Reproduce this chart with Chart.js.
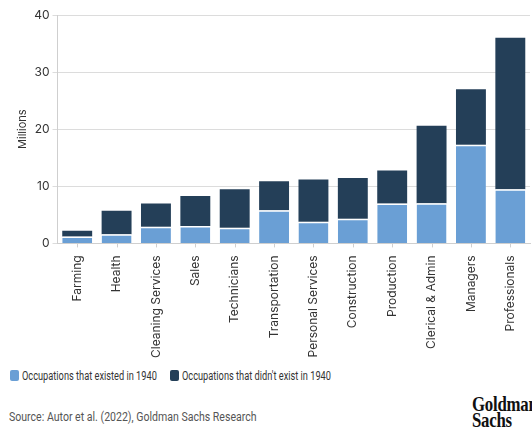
<!DOCTYPE html>
<html>
<head>
<meta charset="utf-8">
<script src="https://cdn.jsdelivr.net/npm/chart.js@4"></script>
<style>
  html, body { margin: 0; padding: 0; background: #fff; }
  #wrap { position: relative; width: 532px; height: 435px; overflow: hidden; }
  #chartBox { position: absolute; left: 0; top: 0; width: 532px; height: 362px; }
  #legend { position: absolute; left: 10px; top: 369px; white-space: nowrap; font: 12px "Roboto", "Liberation Sans", sans-serif; color: #333; }
  #legend .item { display: inline-block; }
  #legend .box { display: inline-block; width: 9px; height: 11px; border-radius: 2px; vertical-align: -1px; margin-right: 3px; }
  #legend .txt { display: inline-block; transform: scaleX(0.77); transform-origin: left center; }
  #legend .item:first-child { margin-right: -27px; }
  #source { position: absolute; left: 9px; top: 410px; white-space: nowrap; font: 12px "Roboto", "Liberation Sans", sans-serif; color: #555; transform: scaleX(0.88); transform-origin: left top; }
  #logo { position: absolute; left: 472px; top: 396px; font: bold 21px/16px "Liberation Serif", "DejaVu Serif", serif; color: #111; transform: scaleX(0.8); transform-origin: left top; letter-spacing: -0.3px; }
</style>
</head>
<body>
<div id="wrap">
  <div id="chartBox"><canvas id="jobsChart"></canvas></div>
  <div id="legend"></div>
  <div id="source">Source: Autor et al. (2022), Goldman Sachs Research</div>
  <div id="logo">Goldman<br>Sachs</div>
</div>
<script>
// Employment by occupation group, millions
const categories = ['Farming', 'Health', 'Cleaning Services', 'Sales', 'Technicians', 'Transportation',
  'Personal Services', 'Construction', 'Production', 'Clerical & Admin', 'Managers', 'Professionals'];
const existed1940 = [1.2, 1.6, 2.9, 3.05, 2.75, 5.8, 3.8, 4.3, 7.0, 7.05, 17.3, 9.5];
const newSince1940 = [1.0, 4.1, 4.1, 5.25, 6.75, 5.1, 7.4, 7.15, 5.75, 13.55, 9.7, 26.5];
const yTicks = [0, 10, 20, 30, 40];

const fontFamily = '"Inter", "Liberation Sans", sans-serif';

// short tick marks under each category, drawn on the x axis
const categoryTicks = {
    id: 'categoryTicks',
    afterDraw(c) {
        const x = c.scales.x;
        const g = c.ctx;
        g.save();
        g.strokeStyle = '#cfcfcf';
        g.lineWidth = 1;
        x.ticks.forEach((t, i) => {
            const px = Math.round(x.getPixelForTick(i)) + 0.5;
            g.beginPath();
            g.moveTo(px, x.top);
            g.lineTo(px, x.top + 4);
            g.stroke();
        });
        g.restore();
    }
};

const ctx = document.getElementById('jobsChart').getContext('2d');
const chart = new Chart(ctx, {
    type: 'bar',
    data: {
        labels: categories,
        datasets: [{
            label: 'Occupations that existed in 1940',
            data: existed1940,
            backgroundColor: '#6a9fd5',
            borderColor: '#ffffff',
            borderWidth: { top: 1.5 },
            borderSkipped: false,
            categoryPercentage: 1,
            barPercentage: 0.76
        }, {
            label: "Occupations that didn't exist in 1940",
            data: newSince1940,
            backgroundColor: '#243f58',
            borderWidth: 0,
            categoryPercentage: 1,
            barPercentage: 0.76
        }]
    },
    options: {
        responsive: true,
        maintainAspectRatio: false,
        animation: false,
        layout: { padding: { left: 12, right: 2, top: 15, bottom: 0 } },
        scales: {
            x: {
                stacked: true,
                grid: { display: false },
                border: { color: '#cfcfcf' },
                ticks: {
                    color: '#333',
                    font: { family: fontFamily, size: 12 },
                    maxRotation: 90,
                    minRotation: 90,
                    padding: 4
                }
            },
            y: {
                stacked: true,
                min: 0,
                max: 40,
                afterBuildTicks: (axis) => { axis.ticks = yTicks.map(v => ({ value: v })); },
                grid: { color: '#dcdcdc', tickLength: 5 },
                border: { color: '#cfcfcf' },
                ticks: {
                    color: '#333',
                    font: { family: fontFamily, size: 12 },
                    padding: 3
                },
                title: {
                    display: true,
                    text: 'Millions',
                    color: '#333',
                    font: { family: fontFamily, size: 11 },
                    padding: { bottom: 2 }
                }
            }
        },
        plugins: {
            legend: { display: false },
            tooltip: { enabled: false }
        }
    },
    plugins: [categoryTicks]
});

// Legend built from the datasets
const legendEl = document.getElementById('legend');
chart.data.datasets.forEach(ds => {
    const item = document.createElement('span');
    item.className = 'item';
    item.innerHTML = `<span class="box" style="background:${ds.backgroundColor}"></span><span class="txt">${ds.label}</span>`;
    legendEl.appendChild(item);
});
</script>
</body>
</html>
